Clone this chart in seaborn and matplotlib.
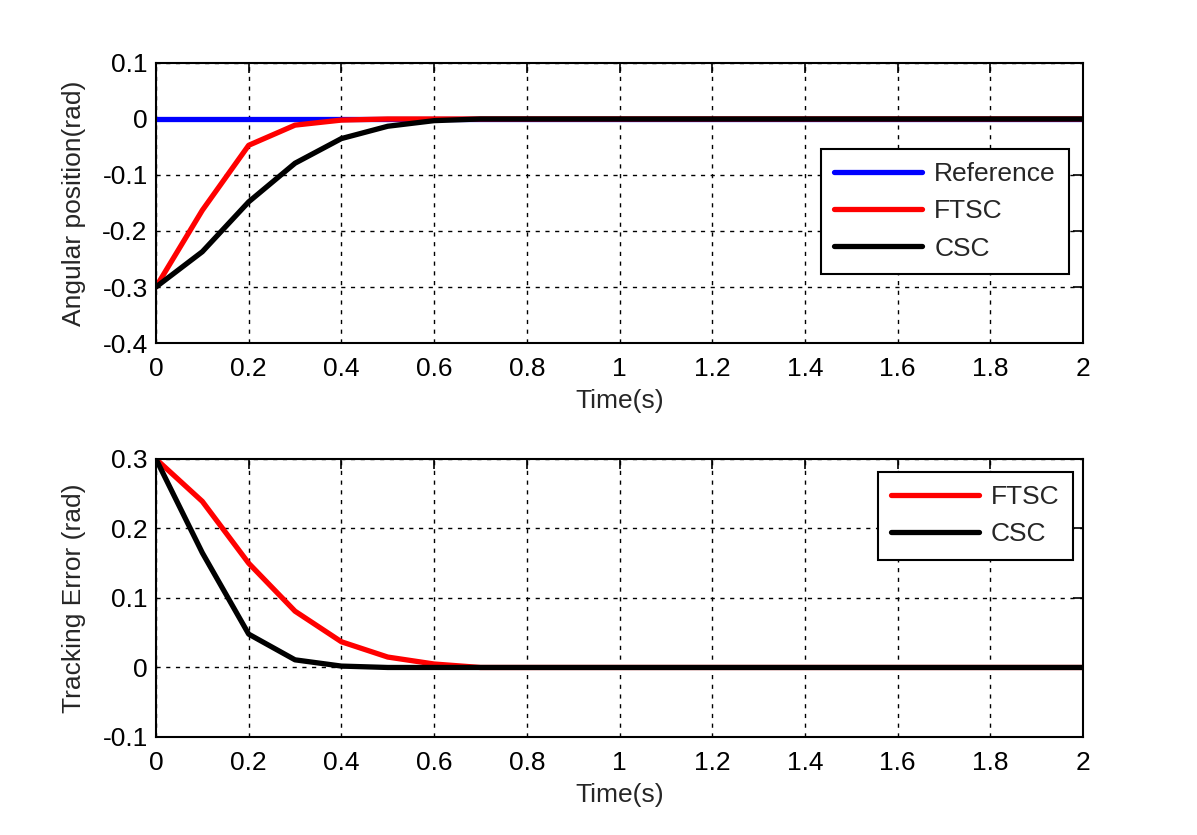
import matplotlib
matplotlib.use("Agg")
import matplotlib.pyplot as plt
import seaborn as sns
import pandas as pd

time_s = [0.0, 0.1, 0.2, 0.3, 0.4, 0.5, 0.6, 0.7, 0.8, 0.9, 1.0,
          1.1, 1.2, 1.3, 1.4, 1.5, 1.6, 1.7, 1.8, 1.9, 2.0]
pos_reference = [0.0] * 21
pos_ftsc = [-0.3, -0.163, -0.047, -0.011, -0.002, 0.0, 0.0, 0.0, 0.0, 0.0, 0.0,
            0.0, 0.0, 0.0, 0.0, 0.0, 0.0, 0.0, 0.0, 0.0, 0.0]
pos_csc = [-0.3, -0.237, -0.148, -0.079, -0.035, -0.013, -0.003, 0.0, 0.0, 0.0, 0.0,
           0.0, 0.0, 0.0, 0.0, 0.0, 0.0, 0.0, 0.0, 0.0, 0.0]
err_ftsc = [0.3, 0.239, 0.15, 0.081, 0.037, 0.015, 0.005, 0.0, 0.0, 0.0, 0.0,
            0.0, 0.0, 0.0, 0.0, 0.0, 0.0, 0.0, 0.0, 0.0, 0.0]
err_csc = [0.3, 0.165, 0.048, 0.011, 0.002, 0.0, 0.0, 0.0, 0.0, 0.0, 0.0,
           0.0, 0.0, 0.0, 0.0, 0.0, 0.0, 0.0, 0.0, 0.0, 0.0]
x_ticks = [0, 0.2, 0.4, 0.6, 0.8, 1, 1.2, 1.4, 1.6, 1.8, 2]
x_labels = ["0", "0.2", "0.4", "0.6", "0.8", "1", "1.2", "1.4", "1.6", "1.8", "2"]
top_yticks = [-0.4, -0.3, -0.2, -0.1, 0, 0.1]
top_ylabels = ["-0.4", "-0.3", "-0.2", "-0.1", "0", "0.1"]
bot_yticks = [-0.1, 0, 0.1, 0.2, 0.3]
bot_ylabels = ["-0.1", "0", "0.1", "0.2", "0.3"]

sns.set_style("white")
plt.rcParams['font.family'] = ['Liberation Sans', 'DejaVu Sans']
FS = 19

fig = plt.figure(figsize=(11.97, 8.35), dpi=100)
ax1 = fig.add_axes([0.1303, 0.5892, 0.7745, 0.3354])
ax2 = fig.add_axes([0.1303, 0.1174, 0.7745, 0.3329])

df_top = pd.DataFrame({
    "t": time_s * 3,
    "v": pos_reference + pos_ftsc + pos_csc,
    "s": ["Reference"] * 21 + ["FTSC"] * 21 + ["CSC"] * 21,
})
df_bot = pd.DataFrame({
    "t": time_s * 2,
    "v": err_ftsc + err_csc,
    "s": ["FTSC"] * 21 + ["CSC"] * 21,
})

lw = 3.8
sns.lineplot(data=df_top, x="t", y="v", hue="s",
             palette={"Reference": "#0000ff", "FTSC": "#ff0000", "CSC": "#000000"},
             hue_order=["Reference", "FTSC", "CSC"], linewidth=lw, ax=ax1,
             estimator=None, sort=False)
sns.lineplot(data=df_bot, x="t", y="v", hue="s",
             palette={"FTSC": "#ff0000", "CSC": "#000000"},
             hue_order=["FTSC", "CSC"], linewidth=lw, ax=ax2,
             estimator=None, sort=False)

for ax, yt, yl, ylim, ylab in [
    (ax1, top_yticks, top_ylabels, (-0.4, 0.1), "Angular position(rad)"),
    (ax2, bot_yticks, bot_ylabels, (-0.1, 0.3), "Tracking Error (rad)"),
]:
    ax.set_xlim(0, 2)
    ax.set_ylim(*ylim)
    ax.set_xticks(x_ticks)
    ax.set_xticklabels(x_labels)
    ax.set_yticks(yt)
    ax.set_yticklabels(yl)
    ax.set_xlabel("Time(s)", fontsize=FS, labelpad=6)
    ax.set_ylabel(ylab, fontsize=FS, labelpad=12)
    ax.tick_params(direction="in", length=7, width=1.2, top=True, right=True,
                   labelsize=FS, colors="black")
    ax.tick_params(axis="x", pad=10)
    ax.tick_params(axis="y", pad=6)
    ax.grid(True, color="black", linestyle=(0, (3, 4)), linewidth=1.0)
    for sp in ax.spines.values():
        sp.set_visible(True)
        sp.set_color("black")
        sp.set_linewidth(1.5)

leg_kw = dict(loc="upper right", fontsize=FS, frameon=True, fancybox=False,
              edgecolor="black", framealpha=1, handlelength=3.35,
              handletextpad=0.45, borderpad=0.5, labelspacing=0.5,
              borderaxespad=0)
leg1 = ax1.legend(bbox_to_anchor=(0.985, 0.693), **leg_kw)
leg2 = ax2.legend(bbox_to_anchor=(0.989, 0.953), **leg_kw)
for leg in (leg1, leg2):
    leg.get_frame().set_linewidth(1.5)
    for h in leg.get_lines():
        h.set_linewidth(lw)

fig.savefig("out.png", dpi=100)
